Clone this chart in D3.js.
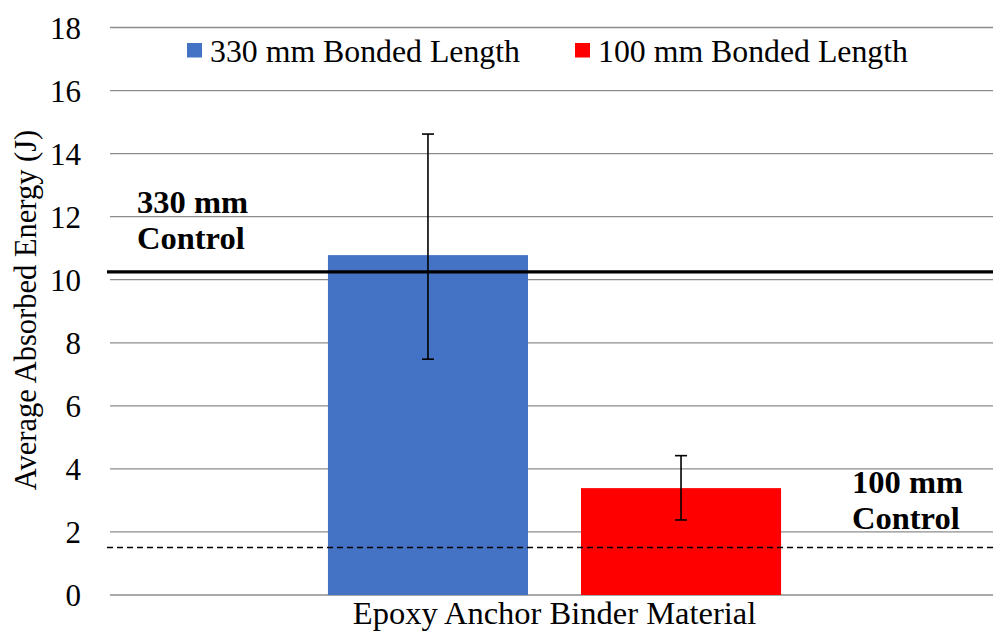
<!DOCTYPE html>
<html>
<head>
<meta charset="utf-8">
<script src="https://cdn.jsdelivr.net/npm/d3@7"></script>
</head>
<body style="margin:0">
<svg id="chart" width="993" height="636"></svg>
<script>
// Data
const categories = ['Epoxy Anchor Binder Material'];
const seriesNames = ['330 mm Bonded Length', '100 mm Bonded Length'];
const seriesColors = ['#4472c4', '#ff0000'];
const means = [10.78, 3.39];
const errLow = [7.48, 2.38];
const errHigh = [14.62, 4.42];
const controlValues = [10.25, 1.51];
const controlLabels = [['330 mm', 'Control'], ['100 mm', 'Control']];
const yTicks = [0, 2, 4, 6, 8, 10, 12, 14, 16, 18];

const FONT = 'Liberation Serif';

const svg = d3.select('#chart');
const margin = { top: 27.5, right: -6, bottom: 41, left: 110 };
const width = 993 - margin.left - margin.right,
    height = 636 - margin.top - margin.bottom;

const g = svg.append('g').attr('transform', 'translate(' + margin.left + ',' + margin.top + ')');

// Sets a serif font on a text selection
function serif(sel, size) {
    return sel.attr('font-family', FONT)
        .style('font-family', FONT, 'important')
        .style('font-size', size + 'px');
}

// Scales
const yScale = d3.scaleLinear().domain([0, 18]).range([height, 0]);
const xScale = d3.scaleBand().domain(categories).range([0, width]).paddingOuter(0.481).paddingInner(0);
const xSub = d3.scaleBand().domain(seriesNames).range([0, xScale.bandwidth()]).paddingInner(0.2095).paddingOuter(0);

// Gridlines
g.append('g').selectAll('line').data(yTicks).enter().append('line')
    .attr('x1', 0).attr('x2', width)
    .attr('y1', d => yScale(d)).attr('y2', d => yScale(d))
    .attr('stroke', '#8c8c8c').attr('stroke-width', 1.3);

// Y axis
const yAxisG = g.append('g').call(d3.axisLeft(yScale).tickValues(yTicks).tickSize(0).tickPadding(29))
    .attr('font-family', FONT);
yAxisG.select('.domain').remove();
serif(yAxisG.selectAll('text'), 31)
    .attr('fill', '#000')
    .attr('dy', '0.34em');

// Y axis title
serif(svg.append('text'), 30.5)
    .attr('transform', 'translate(36,310) rotate(-90)')
    .attr('text-anchor', 'middle')
    .text('Average Absorbed Energy (J)');

// X axis label
const xAxisG = g.append('g').attr('transform', 'translate(0,' + height + ')')
    .call(d3.axisBottom(xScale).tickSize(0).tickPadding(0))
    .attr('font-family', FONT);
xAxisG.select('.domain').remove();
serif(xAxisG.selectAll('text'), 32.5)
    .attr('fill', '#000')
    .attr('dy', null)
    .attr('y', 29);

// Bars
const group = g.append('g').attr('transform', 'translate(' + xScale(categories[0]) + ',0)');
group.selectAll('rect.bar').data(seriesNames).enter().append('rect')
    .attr('class', 'bar')
    .attr('x', d => xSub(d))
    .attr('width', xSub.bandwidth())
    .attr('y', (d, i) => yScale(means[i]))
    .attr('height', (d, i) => height - yScale(means[i]))
    .attr('fill', (d, i) => seriesColors[i]);

// Control lines
g.append('line')
    .attr('x1', -3).attr('x2', width)
    .attr('y1', yScale(controlValues[0])).attr('y2', yScale(controlValues[0]))
    .attr('stroke', '#000').attr('stroke-width', 3.2);
g.append('line')
    .attr('x1', -3).attr('x2', width)
    .attr('y1', yScale(controlValues[1])).attr('y2', yScale(controlValues[1]))
    .attr('stroke', '#000').attr('stroke-width', 1.5)
    .attr('stroke-dasharray', '6,4');

// Error bars
const errs = group.selectAll('g.err').data(seriesNames).enter().append('g').attr('class', 'err');
errs.each(function(d, i) {
    const e = d3.select(this);
    const cx = xSub(d) + xSub.bandwidth() / 2;
    e.append('line').attr('x1', cx).attr('x2', cx)
        .attr('y1', yScale(errHigh[i])).attr('y2', yScale(errLow[i]));
    [errHigh[i], errLow[i]].forEach(v => {
        e.append('line').attr('x1', cx - 6).attr('x2', cx + 6)
            .attr('y1', yScale(v)).attr('y2', yScale(v));
    });
    e.selectAll('line').attr('stroke', '#000').attr('stroke-width', 1.6);
});

// Control labels
const labelPos = [{ x: 27, y: yScale(controlValues[0]) - 59 }, { x: 742, y: yScale(controlValues[1]) - 54 }];
controlLabels.forEach((lines, i) => {
    const t = serif(g.append('text'), 32.5)
        .attr('x', labelPos[i].x).attr('y', labelPos[i].y)
        .style('font-weight', 'bold');
    lines.forEach((l, j) => {
        t.append('tspan').attr('x', labelPos[i].x).attr('dy', j ? 36 : 0).text(l);
    });
});

// Legend
const legendX = [187, 575];
const legend = svg.append('g');
seriesNames.forEach((s, i) => {
    legend.append('rect').attr('x', legendX[i]).attr('y', 43).attr('width', 15).attr('height', 14.5)
        .attr('fill', seriesColors[i]);
    serif(legend.append('text'), 31.8)
        .attr('x', legendX[i] + 23).attr('y', 62)
        .text(s);
});
</script>
</body>
</html>
